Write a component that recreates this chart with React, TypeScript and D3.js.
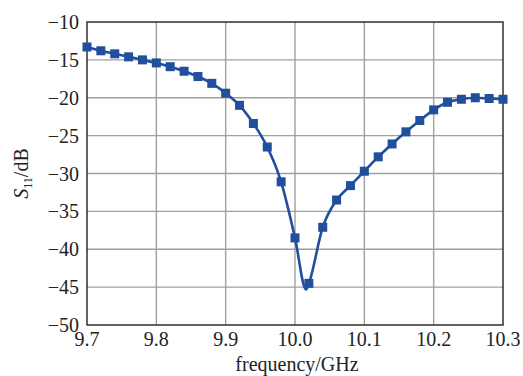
import React from "react";
import * as d3 from "d3";

const freqs = [9.70, 9.72, 9.74, 9.76, 9.78, 9.80, 9.82, 9.84, 9.86, 9.88, 9.90, 9.92, 9.94, 9.96, 9.98, 10.00, 10.02, 10.04, 10.06, 10.08, 10.10, 10.12, 10.14, 10.16, 10.18, 10.20, 10.22, 10.24, 10.26, 10.28, 10.30];
const s11 = [-13.3, -13.8, -14.2, -14.6, -15.0, -15.4, -15.9, -16.5, -17.2, -18.1, -19.4, -21.0, -23.4, -26.5, -31.1, -38.5, -44.5, -37.1, -33.5, -31.6, -29.7, -27.8, -26.1, -24.5, -23.0, -21.6, -20.6, -20.2, -20.0, -20.1, -20.2];
// extra curve-only point at the resonance dip
const dipFreq = 10.016;
const dipValue = -45.3;

const xTicks = [9.7, 9.8, 9.9, 10.0, 10.1, 10.2, 10.3];
const yTicks = [-10, -15, -20, -25, -30, -35, -40, -45, -50];

const W = 523, H = 376;
const L = 87, R = 503, T = 22, B = 325;

export default function App() {
  const x = d3.scaleLinear().domain([9.7, 10.3]).range([L, R]);
  const y = d3.scaleLinear().domain([-50, -10]).range([B, T]);
  const pts: [number, number][] = freqs.map((f, i) => [f, s11[i]]);
  const curvePts = [...pts];
  const di = curvePts.findIndex((p) => p[0] > dipFreq);
  curvePts.splice(di, 0, [dipFreq, dipValue]);
  const line = d3
    .line<[number, number]>()
    .x((d) => x(d[0]))
    .y((d) => y(d[1]))
    .curve(d3.curveMonotoneX);
  const color = "#1f4f9d";
  const ms = 9;
  return (
    <svg width={W} height={H} style={{ position: "absolute", left: 0, top: 0, background: "#fff" }}>
      <g>
        {xTicks.slice(1, -1).map((t) => (
          <line key={"gx" + t} x1={x(t)} x2={x(t)} y1={T} y2={B} stroke="#a0a0a0" strokeWidth={1.4} />
        ))}
        {yTicks.slice(1, -1).map((t) => (
          <line key={"gy" + t} x1={L} x2={R} y1={y(t)} y2={y(t)} stroke="#a0a0a0" strokeWidth={1.4} />
        ))}
        <rect x={L} y={T} width={R - L} height={B - T} fill="none" stroke="#222" strokeWidth={1.4} />
      </g>
      <path d={line(curvePts) || ""} fill="none" stroke={color} strokeWidth={2.6} />
      {pts.map((p, i) => (
        <rect key={i} x={x(p[0]) - ms / 2} y={y(p[1]) - ms / 2} width={ms} height={ms} fill={color} />
      ))}
      <g fontFamily="'Liberation Serif', 'Times New Roman', serif" fontSize={20} fill="#222">
        {yTicks.map((t) => (
          <text key={"yl" + t} x={L - 8} y={y(t) + 7} textAnchor="end">
            {"\u2212" + Math.abs(t)}
          </text>
        ))}
        {xTicks.map((t) => (
          <text key={"xl" + t} x={x(t)} y={B + 21} textAnchor="middle">
            {t.toFixed(1)}
          </text>
        ))}
        <text x={(L + R) / 2 + 2} y={371} textAnchor="middle">
          frequency/GHz
        </text>
        <text transform={`translate(28,${(T + B) / 2}) rotate(-90)`} textAnchor="middle">
          <tspan fontStyle="italic">S</tspan>
          <tspan fontSize={12} dy={4}>11</tspan>
          <tspan dy={-4}>/dB</tspan>
        </text>
      </g>
    </svg>
  );
}
